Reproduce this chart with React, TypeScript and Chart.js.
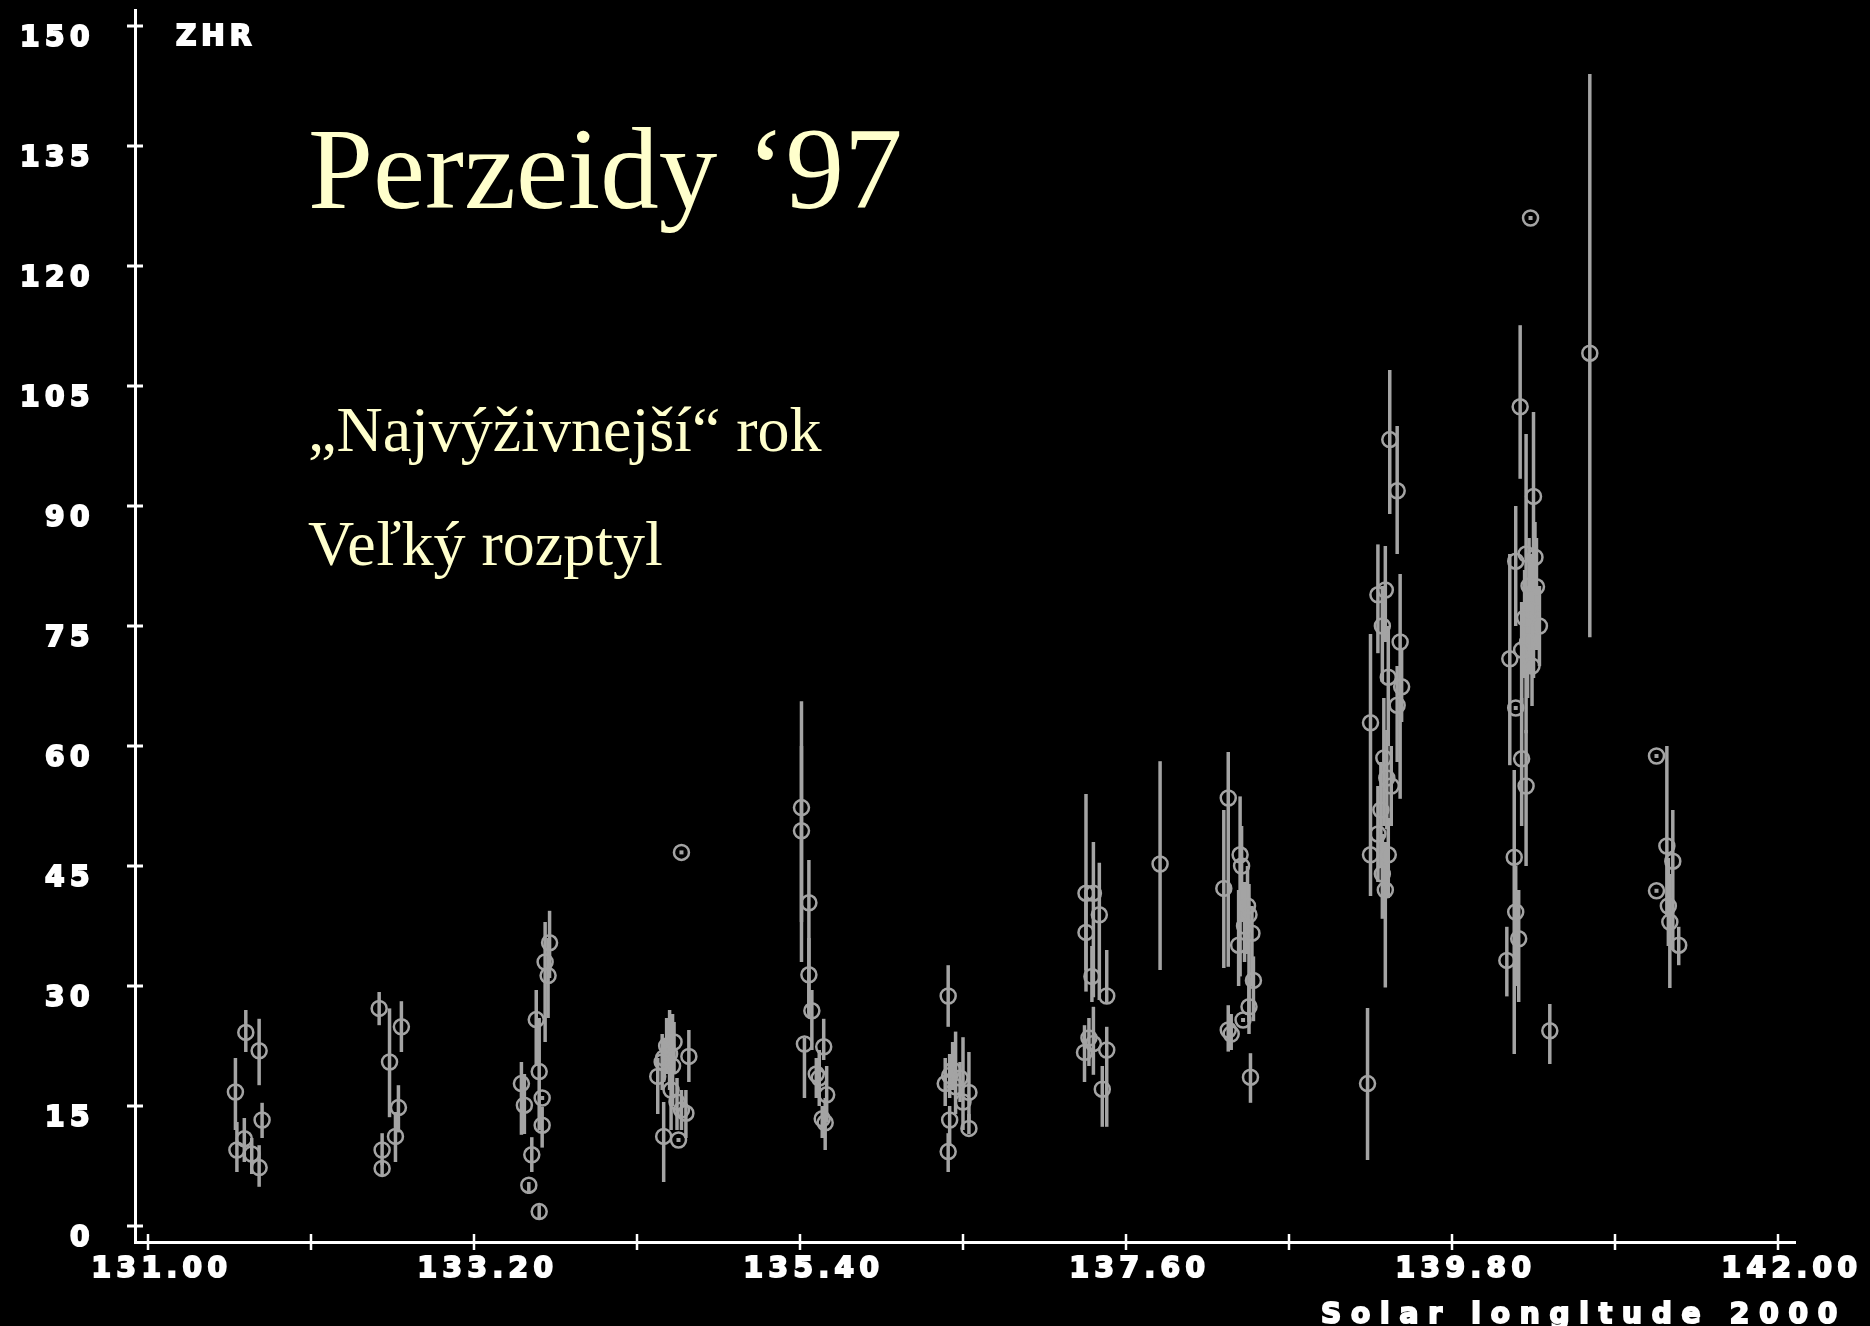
import React, { useEffect, useRef } from 'react';
import { Chart, registerables } from 'chart.js';

Chart.register(...registerables);

// ---- data ----
const solarLongitude = [
  // ~131.7
  131.59, 131.66, 131.75, 131.77, 131.60, 131.65, 131.70, 131.75,
  // ~132.6
  132.56, 132.71, 132.63, 132.69, 132.67, 132.58, 132.58,
  // ~133.6
  133.71, 133.70, 133.68, 133.62, 133.64, 133.52, 133.54, 133.66, 133.66, 133.59, 133.57, 133.64,
  // ~134.5
  134.44, 134.47, 134.50, 134.52, 134.54, 134.55, 134.48, 134.53, 134.57, 134.60, 134.65, 134.63, 134.48, 134.58, 134.60,
  // ~135.5
  135.41, 135.41, 135.46, 135.46, 135.48, 135.43, 135.56, 135.53, 135.51, 135.58, 135.57, 135.55,
  // ~136.4
  136.40, 136.38, 136.41, 136.43, 136.45, 136.48, 136.50, 136.54, 136.54, 136.41, 136.40,
  // ~137.4
  137.33, 137.38, 137.42, 137.33, 137.37, 137.47, 137.32, 137.38, 137.35, 137.47, 137.44, 137.83,
  // ~138.4
  138.29, 138.37, 138.38, 138.26, 138.43, 138.42, 138.45, 138.36, 138.40, 138.46, 138.43, 138.39, 138.29, 138.31, 138.44,
  // ~139.3
  139.38, 139.43, 139.30, 139.35, 139.33, 139.45, 139.25, 139.37, 139.46, 139.43, 139.34, 139.36, 139.39, 139.32,
  139.30, 139.25, 139.37, 139.33, 139.35, 139.23,
  // ~140.3
  140.26, 140.35, 140.30, 140.23, 140.36, 140.37, 140.39, 140.32, 140.33, 140.29, 140.31, 140.27, 140.34, 140.19,
  140.23, 140.27, 140.30, 140.22, 140.23, 140.25, 140.17, 140.46, 140.73, 140.33,
  // ~141.2
  141.18, 141.25, 141.29, 141.18, 141.27, 141.26, 141.33,
];

const zhr = [
  16.75, 24.2, 21.9, 13.25, 9.5, 10.9, 9.0, 7.3,
  27.2, 24.9, 20.5, 14.8, 11.2, 9.5, 7.2,
  35.4, 31.3, 33.0, 25.8, 19.3, 17.8, 15.1, 16.0, 12.6, 8.9, 5.1, 1.8,
  18.7, 20.5, 22.5, 21.5, 20.0, 23.0, 21.0, 17.0, 15.5, 14.5, 21.2, 14.1, 11.2, 10.75, 46.7,
  52.3, 49.4, 40.4, 31.4, 26.9, 22.75, 22.4, 18.5, 19.0, 16.4, 12.9, 13.4,
  28.75, 17.8, 18.8, 19.5, 17.4, 18.5, 15.5, 16.7, 12.2, 13.25, 9.3,
  41.6, 41.6, 38.9, 36.7, 31.2, 28.75, 21.7, 22.8, 23.5, 22.0, 17.1, 45.25,
  53.5, 46.4, 45.0, 42.2, 38.9, 40.0, 36.6, 35.1, 37.5, 30.7, 27.4, 25.75, 24.5, 24.0, 18.6,
  98.3, 91.9, 78.9, 79.5, 75.0, 73.0, 62.9, 68.6, 67.4, 65.1, 58.5, 56.0, 55.0, 52.0,
  49.0, 46.4, 46.4, 44.0, 42.0, 17.8,
  102.4, 91.2, 84.0, 83.1, 83.6, 79.9, 75.0, 80.0, 77.0, 76.0, 73.0, 72.0, 70.0, 70.9,
  64.75, 58.4, 55.0, 46.1, 39.25, 35.9, 33.2, 24.4, 109.1, 126.0,
  58.75, 47.5, 45.6, 41.9, 38.0, 40.0, 35.1,
];

const zhrLow = [
  12.0, 21.75, 17.6, 11.0, 6.75, 8.0, 6.5, 4.9,
  25.1, 21.75, 13.6, 11.7, 8.0, 7.6, 6.2,
  31.0, 26.0, 23.0, 20.0, 12.0, 11.4, 11.5, 16.0, 9.8, 6.75, 4.0, 1.0,
  14.0, 17.0, 19.0, 17.0, 15.0, 19.0, 18.0, 12.0, 12.0, 12.0, 18.0, 11.0, 5.5, 10.75, 46.7,
  33.0, 38.0, 26.6, 26.0, 22.0, 16.0, 20.75, 15.0, 16.0, 13.0, 9.5, 11.0,
  24.9, 15.0, 16.0, 17.0, 14.0, 15.5, 12.0, 13.0, 11.5, 10.0, 6.75,
  29.3, 28.6, 28.25, 32.0, 28.0, 27.9, 18.0, 18.9, 20.0, 12.4, 12.4, 32.0,
  32.4, 31.2, 38.0, 32.25, 25.5, 34.0, 30.0, 30.0, 33.0, 25.6, 24.0, 25.75, 21.8, 22.0, 15.4,
  89.0, 84.0, 71.6, 73.0, 68.0, 53.4, 51.0, 60.0, 63.0, 58.0, 50.0, 49.6, 50.0, 45.0,
  43.0, 41.25, 41.0, 38.4, 29.8, 8.25,
  93.4, 68.5, 61.6, 75.0, 78.0, 72.0, 70.0, 72.0, 69.0, 68.5, 66.0, 65.0, 65.0, 57.6,
  64.75, 50.0, 45.0, 21.5, 30.0, 28.0, 28.7, 20.25, 73.6, 126.0,
  58.75, 38.7, 34.5, 41.9, 29.75, 35.0, 32.6,
];

const zhrHigh = [
  21.0, 27.0, 25.9, 15.4, 13.0, 13.5, 11.0, 10.1,
  29.25, 28.1, 27.2, 17.6, 14.25, 11.6, 8.2,
  39.4, 36.0, 38.0, 29.5, 26.0, 20.5, 19.0, 16.0, 14.9, 11.1, 5.5, 2.6,
  21.0, 24.0, 26.0, 27.0, 26.5, 25.5, 23.5, 21.0, 18.5, 17.0, 24.5, 17.0, 15.5, 10.75, 46.7,
  65.6, 60.0, 45.75, 36.0, 29.5, 23.5, 25.9, 22.0, 21.0, 20.0, 16.0, 15.0,
  32.6, 21.0, 21.5, 23.0, 24.3, 20.5, 23.6, 21.75, 14.0, 15.0, 11.6,
  54.0, 48.0, 45.4, 42.0, 35.0, 34.5, 25.1, 27.4, 26.0, 24.9, 20.0, 58.1,
  59.25, 53.7, 50.0, 52.0, 42.75, 45.0, 40.0, 42.0, 43.0, 33.7, 31.0, 25.75, 27.6, 26.5, 21.6,
  107.0, 100.0, 85.2, 85.0, 80.0, 81.5, 74.0, 75.0, 72.0, 70.0, 66.0, 62.0, 60.0, 58.0,
  55.0, 51.0, 51.0, 49.0, 48.0, 27.25,
  112.6, 101.75, 99.0, 90.0, 88.0, 86.0, 80.0, 86.0, 84.0, 82.0, 80.0, 78.0, 76.0, 84.0,
  64.75, 66.0, 62.0, 57.0, 45.0, 42.0, 37.4, 27.75, 144.0, 126.0,
  58.75, 60.0, 52.0, 41.9, 44.0, 46.0, 37.4,
];

const yTickValues = [0, 15, 30, 45, 60, 75, 90, 105, 120, 135, 150];
const xTickValues = [131.0, 132.1, 133.2, 134.3, 135.4, 136.5, 137.6, 138.7, 139.8, 140.9, 142.0];
const xTickLabels = ['131.00', '', '133.20', '', '135.40', '', '137.60', '', '139.80', '', '142.00'];

const titleText = 'Perzeidy \u201897';
const noteLine1 = '\u201ENajv\u00FD\u017Eivnej\u0161\u00ED\u201C rok';
const noteLine2 = 'Ve\u013Ek\u00FD rozptyl';
const yAxisTitle = 'ZHR';
const xAxisTitle = 'Solar longitude 2000';

// ---- styling ----
const W = 1870;
const H = 1326;
const GRAY = '#a4a4a4';
const CREAM = '#ffffcc';
const AXIS_FONT = "'DejaVu Sans', sans-serif";
const SERIF = "'Liberation Serif', 'Times New Roman', serif";

const plotPlugin = {
  id: 'perseidsDecor',
  beforeDraw(chart: any) {
    const ctx = chart.ctx;
    ctx.save();
    ctx.fillStyle = '#000';
    ctx.fillRect(0, 0, chart.width, chart.height);
    ctx.restore();
    ctx.letterSpacing = '5.5px';
  },
  beforeDatasetsDraw(chart: any) {
    const { ctx, scales } = chart;
    const x = scales.x;
    const y = scales.y;
    ctx.save();
    ctx.strokeStyle = GRAY;
    ctx.lineWidth = 3.5;
    ctx.lineCap = 'butt';
    for (let i = 0; i < solarLongitude.length; i++) {
      if (zhrHigh[i] > zhrLow[i]) {
        const px = x.getPixelForValue(solarLongitude[i]);
        ctx.beginPath();
        ctx.moveTo(px, y.getPixelForValue(zhrHigh[i]));
        ctx.lineTo(px, y.getPixelForValue(zhrLow[i]));
        ctx.stroke();
      }
    }
    ctx.restore();
  },
  afterDatasetsDraw(chart: any) {
    const { ctx, scales } = chart;
    const x = scales.x;
    const y = scales.y;
    ctx.save();
    ctx.fillStyle = GRAY;
    for (let i = 0; i < solarLongitude.length; i++) {
      if (zhrHigh[i] === zhrLow[i]) {
        const px = x.getPixelForValue(solarLongitude[i]);
        const py = y.getPixelForValue(zhr[i]);
        ctx.fillRect(px - 2, py - 2, 4, 4);
      }
    }
    ctx.restore();
  },
  afterDraw(chart: any) {
    const { ctx, scales, chartArea } = chart;
    const x = scales.x;
    const y = scales.y;
    ctx.save();
    // tick marks crossing the axes
    ctx.strokeStyle = '#fff';
    ctx.lineWidth = 3;
    yTickValues.forEach((v) => {
      const py = y.getPixelForValue(v);
      ctx.beginPath();
      ctx.moveTo(chartArea.left - 8, py);
      ctx.lineTo(chartArea.left + 8, py);
      ctx.stroke();
    });
    ctx.lineWidth = 2.5;
    xTickValues.forEach((v) => {
      const px = x.getPixelForValue(v);
      ctx.beginPath();
      ctx.moveTo(px, chartArea.bottom - 8);
      ctx.lineTo(px, chartArea.bottom + 8);
      ctx.stroke();
    });

    // axis captions
    ctx.fillStyle = '#fff';
    ctx.strokeStyle = '#fff';
    ctx.lineWidth = 2;
    ctx.lineJoin = 'miter';
    ctx.font = `bold 28px ${AXIS_FONT}`;
    ctx.textBaseline = 'alphabetic';
    ctx.letterSpacing = '5px';
    ctx.textAlign = 'left';
    ctx.strokeText(yAxisTitle, 176, 45);
    ctx.fillText(yAxisTitle, 176, 45);
    ctx.letterSpacing = '9.8px';
    ctx.textAlign = 'right';
    ctx.strokeText(xAxisTitle, 1847, 1323);
    ctx.fillText(xAxisTitle, 1847, 1323);

    // slide texts
    ctx.letterSpacing = '0px';
    ctx.textAlign = 'left';
    ctx.fillStyle = CREAM;
    ctx.font = `117px ${SERIF}`;
    ctx.fillText(titleText, 308, 208);
    ctx.font = `64px ${SERIF}`;
    ctx.fillText(noteLine1, 308, 451);
    ctx.fillText(noteLine2, 308, 565);
    ctx.restore();
  },
};

const X_MIN = 131 - 13 / 148.2;
const X_MAX = 142 + 17 / 148.2;
const Y_MIN = -2;
const Y_MAX = 152;

export default function App() {
  const canvasRef = useRef<HTMLCanvasElement | null>(null);

  useEffect(() => {
    document.body.style.margin = '0';
    document.body.style.background = '#000';
    const canvas = canvasRef.current;
    if (!canvas) return;
    const chart = new Chart(canvas, {
      type: 'scatter',
      data: {
        datasets: [
          {
            label: 'ZHR',
            data: solarLongitude.map((l, i) => ({ x: l, y: zhr[i] })),
            pointStyle: 'circle',
            pointRadius: 7.5,
            pointBorderWidth: 2.5,
            pointBorderColor: GRAY,
            pointBackgroundColor: 'rgba(0,0,0,0)',
            showLine: false,
          },
        ],
      },
      options: {
        animation: false,
        responsive: false,
        maintainAspectRatio: false,
        devicePixelRatio: 1,
        events: [],
        layout: { padding: { left: 0, top: 10, right: 75, bottom: 0 } },
        plugins: {
          legend: { display: false },
          tooltip: { enabled: false },
          title: { display: false },
        },
        scales: {
          x: {
            type: 'linear',
            position: 'bottom',
            min: X_MIN,
            max: X_MAX,
            afterBuildTicks: (s: any) => {
              s.ticks = xTickValues.map((v) => ({ value: v }));
            },
            afterFit: (s: any) => {
              s.height = 84;
              s.paddingLeft = 0;
              s.paddingRight = 0;
              s.paddingTop = 0;
              s.paddingBottom = 0;
            },
            grid: { display: false, drawTicks: false },
            border: { display: true, color: '#fff', width: 3 },
            ticks: {
              autoSkip: false,
              maxRotation: 0,
              minRotation: 0,
              padding: 11,
              labelOffset: 14,
              color: '#fff',
              textStrokeColor: '#fff',
              textStrokeWidth: 2,
              font: { family: AXIS_FONT, weight: 'bold', size: 28 },
              callback: (_v: any, i: number) => xTickLabels[i] ?? '',
            },
          },
          y: {
            type: 'linear',
            position: 'left',
            min: Y_MIN,
            max: Y_MAX,
            afterBuildTicks: (s: any) => {
              s.ticks = yTickValues.map((v) => ({ value: v }));
            },
            afterFit: (s: any) => {
              s.width = 135;
              s.paddingLeft = 0;
              s.paddingRight = 0;
              s.paddingTop = 0;
              s.paddingBottom = 0;
            },
            grid: { display: false, drawTicks: false },
            border: { display: true, color: '#fff', width: 3 },
            ticks: {
              padding: 40,
              labelOffset: 13,
              color: '#fff',
              textStrokeColor: '#fff',
              textStrokeWidth: 2,
              font: { family: AXIS_FONT, weight: 'bold', size: 28 },
              callback: (v: any) => String(v),
            },
          },
        },
      },
      plugins: [plotPlugin],
    } as any);
    return () => chart.destroy();
  }, []);

  return (
    <div style={{ position: 'fixed', left: 0, top: 0, width: W, height: H, background: '#000' }}>
      <canvas ref={canvasRef} width={W} height={H} style={{ display: 'block', width: W, height: H }} />
    </div>
  );
}
